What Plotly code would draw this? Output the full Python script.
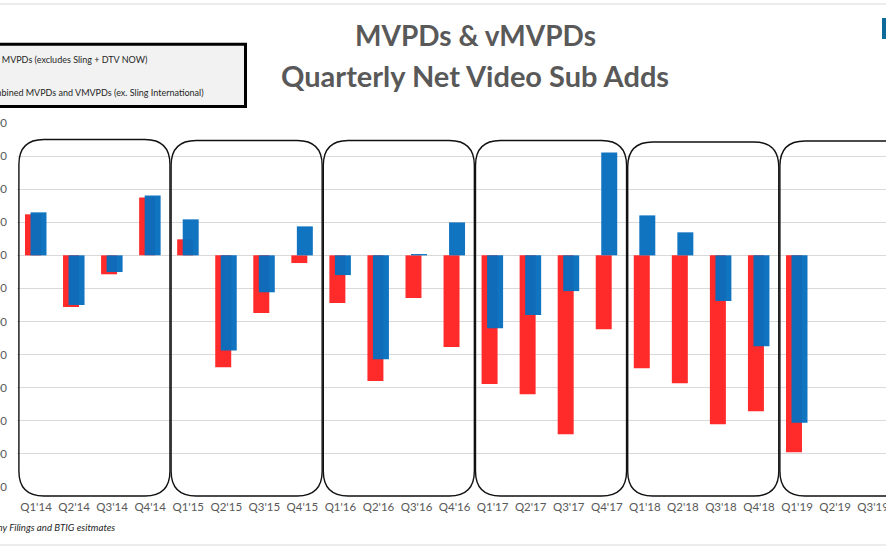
import plotly.graph_objects as go

categories = ["Q1'14", "Q2'14", "Q3'14", "Q4'14",
              "Q1'15", "Q2'15", "Q3'15", "Q4'15",
              "Q1'16", "Q2'16", "Q3'16", "Q4'16",
              "Q1'17", "Q2'17", "Q3'17", "Q4'17",
              "Q1'18", "Q2'18", "Q3'18", "Q4'18",
              "Q1'19", "Q2'19", "Q3'19"]

# net adds (thousands)
traditional_mvpds = [310, -390, -143, 438,
                     121, -845, -436, -58,
                     -360, -950, -322, -693,
                     -972, -1050, -1352, -559,
                     -853, -967, -1276, -1178,
                     -1488, None, None]
combined_mvpds_vmvpds = [325, -375, -126, 453,
                         272, -718, -279, 219,
                         -149, -785, 10, 249,
                         -550, -451, -270, 778,
                         302, 174, -345, -687,
                         -1265, None, None]

y_ticks = [1000, 750, 500, 250, 0, -250, -500, -750, -1000, -1250, -1500, -1750]
y_tick_labels = [f"{v:,}" for v in y_ticks]

legend_names = ["Traditional MVPDs (excludes Sling + DTV NOW)",
                "Combined MVPDs and VMVPDs (ex. Sling International)"]

W, H = 886, 550
ML, MR, MT, MB = 17, 0, 123, 63
PW = W - ML - MR
PH = H - MT - MB
XMIN, XMAX = -0.5, -0.5 + PW / 38.05


def px_x(px):
    return (px - ML) / PW


def px_y(py):
    return (H - MB - py) / PH


def cat_x(idx):
    return (idx - XMIN) / (XMAX - XMIN)


fig = go.Figure()
fig.add_trace(go.Bar(x=categories, y=traditional_mvpds, name=legend_names[0],
                     marker=dict(color="#FF2A2A", line=dict(width=0)),
                     width=0.42, offset=-0.29))
fig.add_trace(go.Bar(x=categories, y=combined_mvpds_vmvpds, name=legend_names[1],
                     marker=dict(color="rgba(6,110,190,0.96)", line=dict(width=0)),
                     width=0.42, offset=-0.145))

shapes = []
# rounded year boxes
rx = 25 / PW
ry = 25 / PH
for k, (top_px) in enumerate([139.5, 140.5, 140.5, 140.5, 142, 141]):
    x0 = cat_x(4 * k - 0.45)
    x1 = cat_x(4 * k + 3.52)
    y1 = px_y(top_px)
    y0 = px_y(496)
    path = (f"M {x0+rx},{y1} L {x1-rx},{y1} Q {x1},{y1} {x1},{y1-ry} "
            f"L {x1},{y0+ry} Q {x1},{y0} {x1-rx},{y0} L {x0+rx},{y0} "
            f"Q {x0},{y0} {x0},{y0+ry} L {x0},{y1-ry} Q {x0},{y1} {x0+rx},{y1} Z")
    shapes.append(dict(type="path", xref="paper", yref="paper", path=path,
                       line=dict(color="#111111", width=1.4), layer="above"))

# legend box
shapes.append(dict(type="rect", xref="paper", yref="paper",
                   x0=px_x(-30), x1=px_x(245.5), y0=px_y(106.5), y1=px_y(44.3),
                   fillcolor="#F2F2F2", line=dict(color="black", width=3), layer="above"))
# outer borders
shapes.append(dict(type="line", xref="paper", yref="paper",
                   x0=px_x(0), x1=px_x(W), y0=px_y(4), y1=px_y(4),
                   line=dict(color="#D9D9D9", width=1)))
shapes.append(dict(type="line", xref="paper", yref="paper",
                   x0=px_x(0), x1=px_x(W), y0=px_y(545), y1=px_y(545),
                   line=dict(color="#D9D9D9", width=1)))
# logo fragment
shapes.append(dict(type="rect", xref="paper", yref="paper",
                   x0=px_x(882), x1=px_x(887), y0=px_y(39), y1=px_y(18),
                   fillcolor="#0E6A9A", line=dict(width=0)))

annotations = [
    dict(text="MVPDs & vMVPDs", x=px_x(475), y=px_y(35), xref="paper", yref="paper",
         showarrow=False, xanchor="center", yanchor="middle",
         font=dict(family="Lato", size=28, color="#595959", weight="bold")),
    dict(text="Quarterly Net Video Sub Adds", x=px_x(475), y=px_y(75), xref="paper", yref="paper",
         showarrow=False, xanchor="center", yanchor="middle",
         font=dict(family="Lato", size=29, color="#595959", weight="bold")),
    dict(text=legend_names[0], x=px_x(149), y=px_y(60), xref="paper", yref="paper",
         showarrow=False, xanchor="right", yanchor="middle",
         font=dict(family="Lato", size=9, color="#262626")),
    dict(text=legend_names[1], x=px_x(206), y=px_y(92), xref="paper", yref="paper",
         showarrow=False, xanchor="right", yanchor="middle",
         font=dict(family="Lato", size=9, color="#262626")),
    dict(text="<i>Source: Company Filings and BTIG esitmates</i>", x=px_x(117), y=px_y(527),
         xref="paper", yref="paper", showarrow=False, xanchor="right", yanchor="middle",
         font=dict(family="Lato", size=9.7, color="#262626")),
]

fig.update_layout(
    template="none",
    width=W, height=H,
    margin=dict(l=ML, r=MR, t=MT, b=MB, pad=0, autoexpand=False),
    paper_bgcolor="white", plot_bgcolor="white",
    barmode="overlay", showlegend=False,
    shapes=shapes, annotations=annotations,
    font=dict(family="Lato", color="#595959"),
    xaxis=dict(type="category", range=[XMIN, XMAX], showgrid=False, showline=False,
               zeroline=False, ticks="", tickfont=dict(size=11.5, color="#595959"),
               ticklabelstandoff=11, tickangle=0, automargin=False),
    yaxis=dict(range=[-1750, 1000], tickvals=y_ticks, ticktext=y_tick_labels,
               showgrid=True, gridcolor="#D9D9D9", gridwidth=1,
               zeroline=True, zerolinecolor="#D9D9D9", zerolinewidth=1,
               showline=False, ticks="", tickfont=dict(size=11.5, color="#595959"),
               ticklabelstandoff=9, automargin=False),
)

fig.write_html("out.html", config={"displayModeBar": False},
               post_script="document.body.style.margin='0';document.body.style.overflow='hidden';")
